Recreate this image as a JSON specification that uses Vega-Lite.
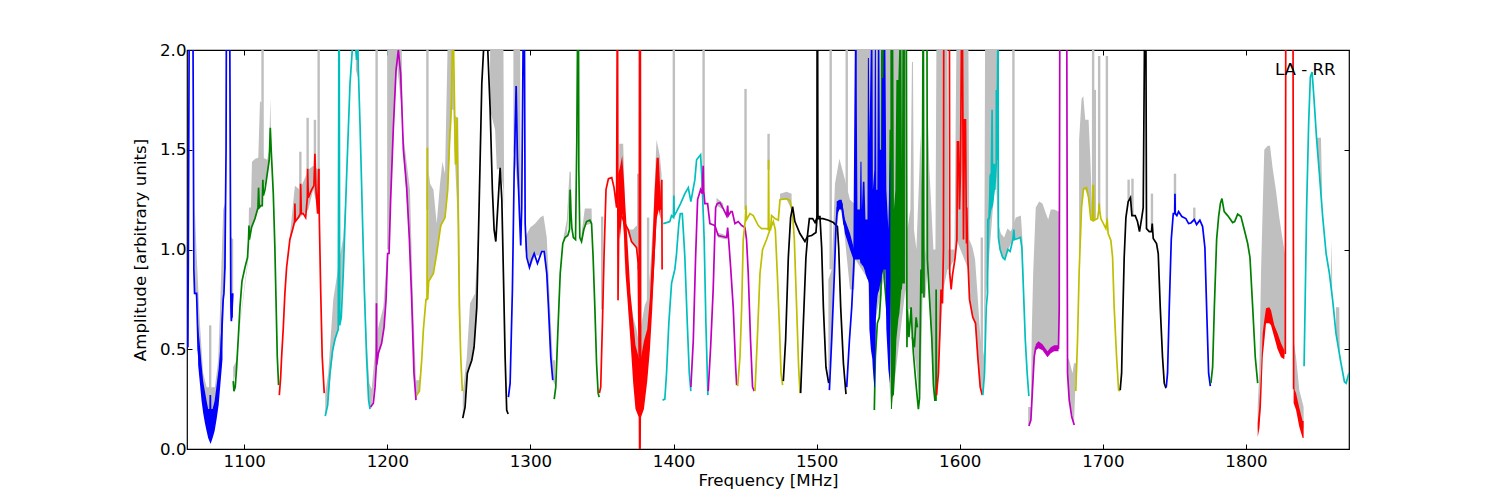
{"$schema":"https://vega.github.io/schema/vega-lite/v6.json","width":1162,"height":399,"autosize":"none","padding":{"left":187,"top":50,"right":151,"bottom":51},"background":"white","config":{"view":{"stroke":"black","strokeWidth":1.2},"font":"DejaVu Sans"},
"datasets":{
"gray":[
{"g":"a","f":1065.5,"lo":0.78,"hi":1.2},{"g":"a","f":1066.7,"lo":0.75,"hi":0.98},{"g":"a","f":1069,"lo":0.45,"hi":0.63},{"g":"a","f":1071.3,"lo":0.25,"hi":0.38},{"g":"a","f":1073.7,"lo":0.2,"hi":0.31},{"g":"a","f":1076,"lo":0.15,"hi":0.31},{"g":"a","f":1078.4,"lo":0.2,"hi":0.31},{"g":"a","f":1079.5,"lo":0.2,"hi":0.31},{"g":"a","f":1081.8,"lo":0.3,"hi":0.445},{"g":"a","f":1083,"lo":0.45,"hi":0.68},{"g":"a","f":1085.3,"lo":0.75,"hi":1.2},{"g":"a","f":1086.5,"lo":0.9,"hi":1.23},{"g":"a","f":1087.2,"lo":0.9,"hi":1.23},
{"g":"b","f":1090,"lo":0.7,"hi":1.06},{"g":"b","f":1091.1,"lo":0.65,"hi":1.06},{"g":"b","f":1092.3,"lo":0.75,"hi":1.05},
{"g":"c","f":1092.3,"lo":0.33,"hi":0.41},{"g":"c","f":1094.6,"lo":0.4,"hi":0.445},{"g":"c","f":1095.8,"lo":0.55,"hi":0.56},{"g":"c","f":1102.8,"lo":0.95,"hi":0.97},{"g":"c","f":1103.3,"lo":1.05,"hi":1.21},{"g":"c","f":1104.7,"lo":1.1,"hi":1.21},{"g":"c","f":1105.4,"lo":1.11,"hi":1.44},{"g":"c","f":1107.7,"lo":1.15,"hi":1.455},{"g":"c","f":1109.8,"lo":1.2,"hi":1.46},{"g":"c","f":1111,"lo":1.22,"hi":1.74},{"g":"c","f":1112.1,"lo":1.22,"hi":1.74},{"g":"c","f":1113.3,"lo":1.3,"hi":1.46},{"g":"c","f":1116.1,"lo":1.38,"hi":1.45},{"g":"c","f":1117.5,"lo":1.45,"hi":1.5},{"g":"c","f":1118.2,"lo":1.6,"hi":1.76},{"g":"c","f":1118.9,"lo":1.49,"hi":1.5},{"g":"c","f":1120.3,"lo":1.28,"hi":1.3},
{"g":"d","f":1131.9,"lo":1.05,"hi":1.07},{"g":"d","f":1135.4,"lo":1.14,"hi":1.32},{"g":"d","f":1138.9,"lo":1.16,"hi":1.3},{"g":"d","f":1144.8,"lo":1.2,"hi":1.4},{"g":"d","f":1148.2,"lo":1.3,"hi":1.42},{"g":"d","f":1151.7,"lo":1.2,"hi":1.4},
{"g":"e","f":1156.6,"lo":0.165,"hi":0.28},{"g":"e","f":1158.7,"lo":0.25,"hi":0.38},{"g":"e","f":1162.2,"lo":0.5,"hi":0.75},{"g":"e","f":1164.6,"lo":0.57,"hi":0.86},{"g":"e","f":1166.4,"lo":0.62,"hi":0.95},{"g":"e","f":1169.2,"lo":0.88,"hi":1.06},{"g":"e","f":1171.6,"lo":1.36,"hi":1.38},
{"g":"e2","f":1178,"lo":1.9,"hi":2.05},{"g":"e2","f":1180,"lo":1.85,"hi":2.05},
{"g":"f","f":1182.1,"lo":1.28,"hi":1.3},{"g":"f","f":1185.5,"lo":0.46,"hi":0.55},{"g":"f","f":1187.4,"lo":0.2,"hi":0.33},{"g":"f","f":1189,"lo":0.21,"hi":0.3},{"g":"f","f":1192.6,"lo":0.42,"hi":0.58},{"g":"f","f":1197.2,"lo":0.58,"hi":0.71},{"g":"f","f":1200,"lo":0.9,"hi":1.0},
{"g":"h","f":1200.9,"lo":0.98,"hi":2.05},{"g":"h","f":1202.3,"lo":1.25,"hi":2.05},{"g":"h","f":1206.5,"lo":1.95,"hi":2.05},{"g":"h","f":1210,"lo":1.7,"hi":2.05},{"g":"h","f":1210.7,"lo":1.55,"hi":1.6},{"g":"h","f":1215.8,"lo":1.0,"hi":1.3},{"g":"h","f":1218.1,"lo":0.45,"hi":0.7},{"g":"h","f":1220,"lo":0.25,"hi":0.345},{"g":"h","f":1222.4,"lo":0.29,"hi":0.345},{"g":"h","f":1224,"lo":0.44,"hi":0.46},
{"g":"i","f":1228.7,"lo":0.84,"hi":1.4},{"g":"i","f":1229.9,"lo":0.85,"hi":1.33},{"g":"i","f":1232.2,"lo":0.88,"hi":1.3},{"g":"i","f":1234.5,"lo":0.98,"hi":1.13},{"g":"i","f":1236.8,"lo":1.1,"hi":1.33},{"g":"i","f":1238.5,"lo":1.13,"hi":1.44},{"g":"i","f":1240.3,"lo":1.16,"hi":1.38},{"g":"i","f":1242.2,"lo":1.3,"hi":2.05},{"g":"i","f":1245,"lo":1.7,"hi":2.05},{"g":"i","f":1246.2,"lo":1.7,"hi":2.05},{"g":"i","f":1246.9,"lo":1.5,"hi":1.67},{"g":"i","f":1249.5,"lo":1.1,"hi":1.66},{"g":"i","f":1250.3,"lo":0.71,"hi":1.13},{"g":"i","f":1251.3,"lo":0.46,"hi":0.5},
{"g":"j","f":1252.7,"lo":0.155,"hi":0.28},{"g":"j","f":1255.5,"lo":0.35,"hi":0.46},{"g":"j","f":1257.8,"lo":0.42,"hi":0.73},{"g":"j","f":1261.3,"lo":0.55,"hi":0.78},{"g":"j","f":1263.7,"lo":1.0,"hi":1.1},
{"g":"l","f":1271.8,"lo":1.7,"hi":2.05},{"g":"l","f":1275.3,"lo":1.6,"hi":2.05},{"g":"l","f":1276.5,"lo":1.4,"hi":2.05},{"g":"l","f":1278.8,"lo":1.41,"hi":2.05},{"g":"l","f":1281.1,"lo":1.3,"hi":2.05},{"g":"l","f":1281.6,"lo":1.2,"hi":1.3},
{"g":"n","f":1288.1,"lo":1.5,"hi":2.05},{"g":"n","f":1292.8,"lo":1.2,"hi":2.05},{"g":"n","f":1293.2,"lo":1.02,"hi":1.1},
{"g":"o","f":1296.3,"lo":1.0,"hi":1.06},{"g":"o","f":1299.8,"lo":0.91,"hi":1.11},{"g":"o","f":1303.3,"lo":0.97,"hi":1.13},{"g":"o","f":1306.8,"lo":0.97,"hi":1.16},{"g":"o","f":1309.1,"lo":0.99,"hi":1.17},{"g":"o","f":1311.4,"lo":0.88,"hi":1.06},{"g":"o","f":1313.7,"lo":0.5,"hi":0.71},{"g":"o","f":1315.6,"lo":0.345,"hi":0.445},{"g":"o","f":1317.2,"lo":0.32,"hi":0.445},
{"g":"p","f":1323.1,"lo":1.04,"hi":1.06},{"g":"p","f":1325.4,"lo":1.07,"hi":1.147},{"g":"p","f":1327.3,"lo":1.25,"hi":1.39},{"g":"p","f":1328.2,"lo":1.25,"hi":1.39},{"g":"p","f":1329.1,"lo":1.1,"hi":1.15},
{"g":"q","f":1335.7,"lo":1.04,"hi":1.08},{"g":"q","f":1338,"lo":1.12,"hi":1.205},{"g":"q","f":1342.7,"lo":1.13,"hi":1.205},{"g":"q","f":1343.4,"lo":0.98,"hi":1.0},
{"g":"r","f":1362,"lo":1.18,"hi":1.53},{"g":"r","f":1364.8,"lo":1.18,"hi":1.53},{"g":"r","f":1366,"lo":0.9,"hi":1.25},
{"g":"s","f":1366,"lo":1.12,"hi":1.15},{"g":"s","f":1368.3,"lo":1.08,"hi":1.1},{"g":"s","f":1371.8,"lo":1.03,"hi":1.1},{"g":"s","f":1374.1,"lo":1.0,"hi":1.12},{"g":"s","f":1375.3,"lo":0.95,"hi":1.1},
{"g":"t","f":1368.3,"lo":0.7,"hi":0.85},{"g":"t","f":1371.8,"lo":0.4,"hi":0.66},{"g":"t","f":1374.1,"lo":0.3,"hi":0.6},{"g":"t","f":1375.3,"lo":0.3,"hi":0.55},{"g":"t","f":1377.6,"lo":0.3,"hi":0.63},{"g":"t","f":1379.9,"lo":0.3,"hi":0.72},{"g":"t","f":1381.6,"lo":0.4,"hi":0.75},{"g":"t","f":1383.5,"lo":0.6,"hi":0.88},{"g":"t","f":1385.8,"lo":0.9,"hi":1.15},{"g":"t","f":1388.1,"lo":1.2,"hi":1.55},{"g":"t","f":1390.4,"lo":1.2,"hi":1.47},{"g":"t","f":1391.6,"lo":1.2,"hi":1.38},
{"g":"u","f":1431,"lo":1.06,"hi":1.085},{"g":"u","f":1437,"lo":1.05,"hi":1.07},
{"g":"v","f":1430,"lo":1.22,"hi":1.26},{"g":"v","f":1434.7,"lo":1.2,"hi":1.23},
{"g":"w","f":1474.4,"lo":1.25,"hi":1.28},{"g":"w","f":1479,"lo":1.25,"hi":1.29},{"g":"w","f":1482.5,"lo":1.2,"hi":1.28},
{"g":"x","f":1508.2,"lo":0.33,"hi":0.85},{"g":"x","f":1510.5,"lo":0.55,"hi":0.9},{"g":"x","f":1512.8,"lo":1.0,"hi":1.33},{"g":"x","f":1515.9,"lo":1.23,"hi":1.455},{"g":"x","f":1518.7,"lo":1.13,"hi":1.38},{"g":"x","f":1523.3,"lo":0.8,"hi":1.25},{"g":"x","f":1526.2,"lo":0.8,"hi":1.23},{"g":"x","f":1527,"lo":0.95,"hi":2.05},{"g":"x","f":1536,"lo":0.85,"hi":2.05},{"g":"x","f":1536.9,"lo":0.6,"hi":2.05},{"g":"x","f":1539.3,"lo":0.4,"hi":2.05},{"g":"x","f":1540.3,"lo":0.31,"hi":2.05},{"g":"x","f":1541.2,"lo":0.65,"hi":2.05},{"g":"x","f":1548,"lo":0.9,"hi":2.05},{"g":"x","f":1550.8,"lo":0.33,"hi":2.05},{"g":"x","f":1552.2,"lo":0.2,"hi":2.05},{"g":"x","f":1562,"lo":0.8,"hi":2.05},{"g":"x","f":1562.7,"lo":0.7,"hi":2.05},{"g":"x","f":1563.4,"lo":0.7,"hi":1.1},{"g":"x","f":1565.5,"lo":0.7,"hi":1.2},{"g":"x","f":1566.6,"lo":0.6,"hi":1.94},{"g":"x","f":1567.3,"lo":0.55,"hi":1.94},{"g":"x","f":1568,"lo":0.5,"hi":1.1},{"g":"x","f":1569.7,"lo":0.4,"hi":1.0},{"g":"x","f":1571.8,"lo":0.25,"hi":1.4},{"g":"x","f":1572.5,"lo":0.25,"hi":1.58},{"g":"x","f":1574,"lo":0.76,"hi":1.2},{"g":"x","f":1575.4,"lo":0.76,"hi":0.95},{"g":"x","f":1576,"lo":0.76,"hi":1.0},{"g":"x","f":1577.4,"lo":0.9,"hi":1.75},{"g":"x","f":1578.8,"lo":0.76,"hi":1.4},{"g":"x","f":1581.6,"lo":0.32,"hi":1.0},{"g":"x","f":1583,"lo":0.25,"hi":1.0},{"g":"x","f":1583.7,"lo":0.27,"hi":2.05},{"g":"x","f":1588.6,"lo":0.8,"hi":2.05},{"g":"x","f":1591.4,"lo":0.9,"hi":2.05},{"g":"x","f":1592.1,"lo":0.9,"hi":1.0},{"g":"x","f":1596.3,"lo":0.95,"hi":1.0},{"g":"x","f":1597.7,"lo":1.05,"hi":2.05},{"g":"x","f":1606,"lo":0.9,"hi":2.05},{"g":"x","f":1606.7,"lo":0.75,"hi":1.05},{"g":"x","f":1608.9,"lo":0.66,"hi":1.01},{"g":"x","f":1610.7,"lo":0.63,"hi":0.95},{"g":"x","f":1612.4,"lo":0.46,"hi":0.78},{"g":"x","f":1614,"lo":0.31,"hi":0.6},{"g":"x","f":1615.9,"lo":0.27,"hi":0.45},{"g":"x","f":1617,"lo":0.38,"hi":0.5},{"g":"x","f":1617.7,"lo":0.7,"hi":2.05},{"g":"x","f":1625.2,"lo":1.4,"hi":2.05},{"g":"x","f":1626.6,"lo":1.1,"hi":2.05},{"g":"x","f":1626.8,"lo":1.06,"hi":1.13},{"g":"x","f":1628.7,"lo":0.98,"hi":1.08},{"g":"x","f":1631,"lo":0.95,"hi":1.06},{"g":"x","f":1633.3,"lo":0.99,"hi":1.105},{"g":"x","f":1635.7,"lo":1.03,"hi":1.09},{"g":"x","f":1639.2,"lo":1.055,"hi":1.16},{"g":"x","f":1642.7,"lo":1.06,"hi":1.17},{"g":"x","f":1643.8,"lo":0.95,"hi":1.05},{"g":"x","f":1645.5,"lo":0.545,"hi":0.6},
{"g":"y","f":1647.8,"lo":0.12,"hi":0.21},{"g":"y","f":1649.7,"lo":0.145,"hi":0.21},{"g":"y","f":1650.3,"lo":0.25,"hi":0.58},{"g":"y","f":1651.3,"lo":0.38,"hi":0.88},{"g":"y","f":1653.1,"lo":0.51,"hi":1.21},{"g":"y","f":1655.5,"lo":0.52,"hi":1.24},{"g":"y","f":1657.8,"lo":0.51,"hi":1.23},{"g":"y","f":1660.2,"lo":0.48,"hi":1.18},{"g":"y","f":1661.8,"lo":0.475,"hi":1.15},{"g":"y","f":1663.6,"lo":0.495,"hi":1.2},{"g":"y","f":1666,"lo":0.505,"hi":1.2},{"g":"y","f":1669,"lo":0.505,"hi":1.19},{"g":"y","f":1669.9,"lo":0.9,"hi":1.19},
{"g":"z","f":1675.3,"lo":0.38,"hi":0.46},{"g":"z","f":1676.5,"lo":0.245,"hi":0.445},{"g":"z","f":1678.8,"lo":0.17,"hi":0.38},{"g":"z","f":1679.8,"lo":0.12,"hi":0.43},{"g":"z","f":1680.7,"lo":0.3,"hi":0.43},{"g":"z","f":1681.6,"lo":0.42,"hi":0.43},
{"g":"aa","f":1683.4,"lo":0.88,"hi":1.55},{"g":"aa","f":1685.1,"lo":1.21,"hi":1.755},{"g":"aa","f":1686.3,"lo":1.3,"hi":1.77},{"g":"aa","f":1687.7,"lo":1.3,"hi":1.65},{"g":"aa","f":1690,"lo":1.26,"hi":1.65},{"g":"aa","f":1691.1,"lo":1.17,"hi":1.48},{"g":"aa","f":1692.8,"lo":1.145,"hi":1.15},
{"g":"ab","f":1808.2,"lo":0.1,"hi":0.21},{"g":"ab","f":1809.3,"lo":0.1,"hi":0.38},{"g":"ab","f":1810.5,"lo":0.25,"hi":0.88},{"g":"ab","f":1811.7,"lo":0.5,"hi":1.21},{"g":"ab","f":1812.8,"lo":0.6,"hi":1.5},{"g":"ab","f":1815.2,"lo":0.68,"hi":1.52},{"g":"ab","f":1816.8,"lo":0.68,"hi":1.52},{"g":"ab","f":1818.6,"lo":0.6,"hi":1.41},{"g":"ab","f":1820.9,"lo":0.55,"hi":1.3},{"g":"ab","f":1823.3,"lo":0.5,"hi":1.16},{"g":"ab","f":1825.6,"lo":0.47,"hi":1.05},{"g":"ab","f":1827.3,"lo":0.46,"hi":0.98},
{"g":"ac","f":1833.3,"lo":0.3,"hi":0.545},{"g":"ac","f":1835,"lo":0.25,"hi":0.46},{"g":"ac","f":1837.3,"lo":0.15,"hi":0.295},{"g":"ac","f":1840.3,"lo":0.1,"hi":0.21},
{"g":"ad","f":1849.4,"lo":1.55,"hi":1.56},{"g":"ad","f":1851.3,"lo":1.38,"hi":1.56},{"g":"ad","f":1852.4,"lo":1.3,"hi":1.56},{"g":"ad","f":1853.2,"lo":1.19,"hi":1.3},
{"g":"ae","f":1859.5,"lo":0.8,"hi":1.05},{"g":"ae","f":1860.2,"lo":0.76,"hi":0.9},
{"g":"af","f":1862.9,"lo":0.58,"hi":0.71},{"g":"af","f":1865.2,"lo":0.5,"hi":0.71},{"g":"af","f":1865.7,"lo":0.43,"hi":0.44}
],
"spikes":[
{"f":1076.2,"lo":0.3,"hi":0.62},{"f":1112.8,"lo":1.4,"hi":2.05},{"f":1139.2,"lo":1.2,"hi":1.49},{"f":1144.3,"lo":1.3,"hi":1.66},{"f":1149.4,"lo":1.3,"hi":1.65},{"f":1152,"lo":1.3,"hi":2.05},{"f":1192.5,"lo":0.5,"hi":2.05},{"f":1200.7,"lo":1.0,"hi":2.05},{"f":1228,"lo":1.2,"hi":2.05},{"f":1350.1,"lo":0.7,"hi":1.165},{"f":1375.3,"lo":0.9,"hi":1.38},{"f":1382.2,"lo":0.7,"hi":1.16},{"f":1400.2,"lo":1.16,"hi":2.05},{"f":1421,"lo":1.3,"hi":2.05},{"f":1450.3,"lo":1.2,"hi":1.805},{"f":1466.4,"lo":1.4,"hi":1.58},{"f":1509.8,"lo":0.9,"hi":2.05},{"f":1521,"lo":1.1,"hi":2.05},{"f":1615.4,"lo":0.4,"hi":1.06},{"f":1637.5,"lo":1.1,"hi":2.05},{"f":1693.2,"lo":1.3,"hi":2.05},{"f":1694.4,"lo":1.15,"hi":1.8},{"f":1697.4,"lo":1.2,"hi":1.97},{"f":1702.8,"lo":1.15,"hi":1.97},{"f":1718,"lo":1.25,"hi":1.35},{"f":1720.7,"lo":1.17,"hi":1.355},{"f":1734.3,"lo":1.1,"hi":1.28},{"f":1750.4,"lo":1.2,"hi":1.38},{"f":1763.9,"lo":1.15,"hi":1.21}
],
"lines":[
{"s":"b1","c":"b","f":1060.5,"a":0.51},{"s":"b1","c":"b","f":1060.9,"a":0.9},{"s":"b1","c":"b","f":1061.5,"a":2.05},{"s":"b1","c":"b","f":1064.2,"a":2.05},{"s":"b1","c":"b","f":1064.8,"a":0.9},{"s":"b1","c":"b","f":1065.3,"a":0.78},{"s":"b1","c":"b","f":1066.7,"a":0.78},{"s":"b1","c":"b","f":1067.8,"a":0.5},{"s":"b1","c":"b","f":1070.2,"a":0.33},{"s":"b1","c":"b","f":1073.7,"a":0.16},{"s":"b1","c":"b","f":1076,"a":0.1},{"s":"b1","c":"b","f":1076.3,"a":0.27},{"s":"b1","c":"b","f":1076.6,"a":0.1},{"s":"b1","c":"b","f":1079.3,"a":0.16},{"s":"b1","c":"b","f":1081.4,"a":0.27},{"s":"b1","c":"b","f":1083.4,"a":0.42},{"s":"b1","c":"b","f":1085.3,"a":0.75},{"s":"b1","c":"b","f":1085.8,"a":0.78},{"s":"b1","c":"b","f":1086.5,"a":0.91},{"s":"b1","c":"b","f":1087.3,"a":1.5},{"s":"b1","c":"b","f":1087.5,"a":2.05},{"s":"b1","c":"b","f":1089.9,"a":2.05},{"s":"b1","c":"b","f":1090.6,"a":0.78},{"s":"b1","c":"b","f":1091,"a":0.64},{"s":"b1","c":"b","f":1091.5,"a":0.7},{"s":"b1","c":"b","f":1092,"a":0.78},
{"s":"g1","c":"g","f":1092.3,"a":0.34},{"s":"g1","c":"g","f":1092.8,"a":0.29},{"s":"g1","c":"g","f":1093.7,"a":0.31},{"s":"g1","c":"g","f":1094.6,"a":0.4},{"s":"g1","c":"g","f":1095.8,"a":0.55},{"s":"g1","c":"g","f":1097,"a":0.71},{"s":"g1","c":"g","f":1098.4,"a":0.84},{"s":"g1","c":"g","f":1100.5,"a":0.91},{"s":"g1","c":"g","f":1102.3,"a":0.96},{"s":"g1","c":"g","f":1103,"a":1.05},{"s":"g1","c":"g","f":1103.3,"a":1.12},{"s":"g1","c":"g","f":1103.6,"a":1.05},{"s":"g1","c":"g","f":1105.1,"a":1.11},{"s":"g1","c":"g","f":1107.5,"a":1.155},{"s":"g1","c":"g","f":1109.6,"a":1.21},{"s":"g1","c":"g","f":1110,"a":1.31},{"s":"g1","c":"g","f":1110.5,"a":1.21},{"s":"g1","c":"g","f":1111.7,"a":1.22},{"s":"g1","c":"g","f":1112.6,"a":1.22},{"s":"g1","c":"g","f":1113,"a":1.35},{"s":"g1","c":"g","f":1113.4,"a":1.27},{"s":"g1","c":"g","f":1114.5,"a":1.3},{"s":"g1","c":"g","f":1116.1,"a":1.38},{"s":"g1","c":"g","f":1117.5,"a":1.45},{"s":"g1","c":"g","f":1118.2,"a":1.61},{"s":"g1","c":"g","f":1118.9,"a":1.49},{"s":"g1","c":"g","f":1120.3,"a":1.28},{"s":"g1","c":"g","f":1121.4,"a":1.01},{"s":"g1","c":"g","f":1122.1,"a":0.78},{"s":"g1","c":"g","f":1123.1,"a":0.46},{"s":"g1","c":"g","f":1124,"a":0.32},
{"s":"r1","c":"r","f":1124.5,"a":0.27},{"s":"r1","c":"r","f":1125.4,"a":0.354},{"s":"r1","c":"r","f":1126.1,"a":0.46},{"s":"r1","c":"r","f":1127.3,"a":0.61},{"s":"r1","c":"r","f":1128.4,"a":0.78},{"s":"r1","c":"r","f":1129.6,"a":0.91},{"s":"r1","c":"r","f":1131.9,"a":1.05},{"s":"r1","c":"r","f":1133.8,"a":1.1},{"s":"r1","c":"r","f":1135.2,"a":1.14},{"s":"r1","c":"r","f":1135.4,"a":1.23},{"s":"r1","c":"r","f":1135.7,"a":1.14},{"s":"r1","c":"r","f":1137.8,"a":1.16},{"s":"r1","c":"r","f":1139.2,"a":1.18},{"s":"r1","c":"r","f":1139.4,"a":1.33},{"s":"r1","c":"r","f":1139.9,"a":1.18},{"s":"r1","c":"r","f":1141.3,"a":1.18},{"s":"r1","c":"r","f":1142.9,"a":1.16},{"s":"r1","c":"r","f":1144.1,"a":1.26},{"s":"r1","c":"r","f":1144.3,"a":1.405},{"s":"r1","c":"r","f":1144.8,"a":1.26},{"s":"r1","c":"r","f":1147.1,"a":1.3},{"s":"r1","c":"r","f":1148.7,"a":1.32},{"s":"r1","c":"r","f":1149.4,"a":1.48},{"s":"r1","c":"r","f":1150.1,"a":1.3},{"s":"r1","c":"r","f":1151.3,"a":1.18},{"s":"r1","c":"r","f":1152,"a":1.4},{"s":"r1","c":"r","f":1152.2,"a":1.4},{"s":"r1","c":"r","f":1152.4,"a":1.18},{"s":"r1","c":"r","f":1153.4,"a":0.8},{"s":"r1","c":"r","f":1154.5,"a":0.46},{"s":"r1","c":"r","f":1155.9,"a":0.28},
{"s":"c1","c":"c","f":1156.6,"a":0.165},{"s":"c1","c":"c","f":1158.3,"a":0.22},{"s":"c1","c":"c","f":1159.9,"a":0.38},{"s":"c1","c":"c","f":1161.8,"a":0.495},{"s":"c1","c":"c","f":1163.4,"a":0.55},{"s":"c1","c":"c","f":1165.7,"a":0.6},{"s":"c1","c":"c","f":1166.1,"a":2.05},{"s":"c1","c":"c","f":1166.4,"a":2.05},{"s":"c1","c":"c","f":1166.7,"a":0.62},{"s":"c1","c":"c","f":1167.8,"a":0.66},{"s":"c1","c":"c","f":1169.2,"a":0.88},{"s":"c1","c":"c","f":1171.6,"a":1.38},{"s":"c1","c":"c","f":1173.9,"a":1.83},{"s":"c1","c":"c","f":1175.5,"a":2.0},{"s":"c1","c":"c","f":1177.4,"a":2.05},{"s":"c1","c":"c","f":1178.5,"a":1.95},{"s":"c1","c":"c","f":1179.3,"a":2.05},{"s":"c1","c":"c","f":1179.7,"a":1.91},{"s":"c1","c":"c","f":1180.9,"a":1.63},{"s":"c1","c":"c","f":1182.1,"a":1.3},{"s":"c1","c":"c","f":1183.9,"a":0.8},{"s":"c1","c":"c","f":1185.5,"a":0.46},{"s":"c1","c":"c","f":1186.9,"a":0.245},{"s":"c1","c":"c","f":1187.9,"a":0.2},
{"s":"m1","c":"m","f":1188.3,"a":0.21},{"s":"m1","c":"m","f":1190.2,"a":0.23},{"s":"m1","c":"m","f":1191.4,"a":0.31},{"s":"m1","c":"m","f":1192.3,"a":0.42},{"s":"m1","c":"m","f":1192.4,"a":0.73},{"s":"m1","c":"m","f":1192.6,"a":0.42},{"s":"m1","c":"m","f":1193.7,"a":0.48},{"s":"m1","c":"m","f":1196,"a":0.53},{"s":"m1","c":"m","f":1197.7,"a":0.61},{"s":"m1","c":"m","f":1199.1,"a":0.75},{"s":"m1","c":"m","f":1200.2,"a":0.98},{"s":"m1","c":"m","f":1201.2,"a":0.98},{"s":"m1","c":"m","f":1202.3,"a":1.25},{"s":"m1","c":"m","f":1204.2,"a":1.61},{"s":"m1","c":"m","f":1206.1,"a":1.9},{"s":"m1","c":"m","f":1207.7,"a":2.0},{"s":"m1","c":"m","f":1209.3,"a":1.88},{"s":"m1","c":"m","f":1211.2,"a":1.5},{"s":"m1","c":"m","f":1213.5,"a":1.31},{"s":"m1","c":"m","f":1215.4,"a":1.05},{"s":"m1","c":"m","f":1217,"a":0.75},{"s":"m1","c":"m","f":1218.6,"a":0.38},{"s":"m1","c":"m","f":1220,"a":0.245},
{"s":"y1","c":"y","f":1220.5,"a":0.27},{"s":"y1","c":"y","f":1222.4,"a":0.29},{"s":"y1","c":"y","f":1224,"a":0.445},{"s":"y1","c":"y","f":1225.2,"a":0.6},{"s":"y1","c":"y","f":1227,"a":0.75},{"s":"y1","c":"y","f":1227.7,"a":0.75},{"s":"y1","c":"y","f":1228,"a":1.51},{"s":"y1","c":"y","f":1228.2,"a":0.75},{"s":"y1","c":"y","f":1228.9,"a":0.84},{"s":"y1","c":"y","f":1232.2,"a":0.88},{"s":"y1","c":"y","f":1234.5,"a":0.98},{"s":"y1","c":"y","f":1237.3,"a":1.12},{"s":"y1","c":"y","f":1240.3,"a":1.16},{"s":"y1","c":"y","f":1242.2,"a":1.3},{"s":"y1","c":"y","f":1243.8,"a":1.6},{"s":"y1","c":"y","f":1244,"a":1.6},{"s":"y1","c":"y","f":1244.8,"a":1.74},{"s":"y1","c":"y","f":1245.5,"a":2.05},{"s":"y1","c":"y","f":1246.2,"a":2.05},{"s":"y1","c":"y","f":1247.1,"a":1.65},{"s":"y1","c":"y","f":1247.6,"a":1.43},{"s":"y1","c":"y","f":1248.3,"a":1.43},{"s":"y1","c":"y","f":1248.7,"a":1.66},{"s":"y1","c":"y","f":1249,"a":1.43},{"s":"y1","c":"y","f":1249.7,"a":1.05},{"s":"y1","c":"y","f":1250.3,"a":0.71},{"s":"y1","c":"y","f":1251.3,"a":0.46},{"s":"y1","c":"y","f":1252.4,"a":0.29},
{"s":"k1","c":"k","f":1252.7,"a":0.155},{"s":"k1","c":"k","f":1254.3,"a":0.21},{"s":"k1","c":"k","f":1255.9,"a":0.38},{"s":"k1","c":"k","f":1257.3,"a":0.41},{"s":"k1","c":"k","f":1259,"a":0.445},{"s":"k1","c":"k","f":1260.6,"a":0.51},{"s":"k1","c":"k","f":1262.5,"a":0.71},{"s":"k1","c":"k","f":1264.1,"a":1.21},{"s":"k1","c":"k","f":1266,"a":1.83},{"s":"k1","c":"k","f":1267.6,"a":2.05},{"s":"k1","c":"k","f":1269.9,"a":2.05},{"s":"k1","c":"k","f":1271.8,"a":1.71},{"s":"k1","c":"k","f":1273.4,"a":1.3},{"s":"k1","c":"k","f":1274.6,"a":1.1},{"s":"k1","c":"k","f":1275.8,"a":1.04},{"s":"k1","c":"k","f":1276.9,"a":1.18},{"s":"k1","c":"k","f":1278.8,"a":1.41},{"s":"k1","c":"k","f":1280,"a":1.25},{"s":"k1","c":"k","f":1281.1,"a":0.88},{"s":"k1","c":"k","f":1282.3,"a":0.46},{"s":"k1","c":"k","f":1283.4,"a":0.195},{"s":"k1","c":"k","f":1284.4,"a":0.175},
{"s":"b2","c":"b","f":1284.6,"a":0.26},{"s":"b2","c":"b","f":1285.8,"a":0.33},{"s":"b2","c":"b","f":1287.4,"a":0.8},{"s":"b2","c":"b","f":1288.6,"a":1.38},{"s":"b2","c":"b","f":1290,"a":1.82},{"s":"b2","c":"b","f":1290.9,"a":1.46},{"s":"b2","c":"b","f":1292.3,"a":1.18},{"s":"b2","c":"b","f":1293.2,"a":1.02},{"s":"b2","c":"b","f":1293.9,"a":1.21},{"s":"b2","c":"b","f":1294.9,"a":2.05},{"s":"b2","c":"b","f":1295.8,"a":2.05},{"s":"b2","c":"b","f":1296.3,"a":1.13},{"s":"b2","c":"b","f":1297.4,"a":0.96},{"s":"b2","c":"b","f":1299.3,"a":0.91},{"s":"b2","c":"b","f":1300.9,"a":0.95},{"s":"b2","c":"b","f":1302.6,"a":0.98},{"s":"b2","c":"b","f":1304.9,"a":0.93},{"s":"b2","c":"b","f":1307.9,"a":0.99},{"s":"b2","c":"b","f":1309.6,"a":0.99},{"s":"b2","c":"b","f":1311.4,"a":0.88},{"s":"b2","c":"b","f":1312.6,"a":0.71},{"s":"b2","c":"b","f":1314.2,"a":0.46},{"s":"b2","c":"b","f":1315.6,"a":0.345},
{"s":"g2","c":"g","f":1316.6,"a":0.25},{"s":"g2","c":"g","f":1317.7,"a":0.31},{"s":"g2","c":"g","f":1319.1,"a":0.58},{"s":"g2","c":"g","f":1320.8,"a":0.88},{"s":"g2","c":"g","f":1322.6,"a":1.03},{"s":"g2","c":"g","f":1324.2,"a":1.06},{"s":"g2","c":"g","f":1326.1,"a":1.07},{"s":"g2","c":"g","f":1327.3,"a":1.1},{"s":"g2","c":"g","f":1327.7,"a":1.3},{"s":"g2","c":"g","f":1328.2,"a":1.2},{"s":"g2","c":"g","f":1328.9,"a":1.11},{"s":"g2","c":"g","f":1330,"a":1.06},{"s":"g2","c":"g","f":1331.5,"a":1.05},{"s":"g2","c":"g","f":1332.4,"a":1.55},{"s":"g2","c":"g","f":1332.9,"a":2.05},{"s":"g2","c":"g","f":1333.6,"a":2.05},{"s":"g2","c":"g","f":1333.8,"a":1.4},{"s":"g2","c":"g","f":1334.5,"a":1.06},{"s":"g2","c":"g","f":1335.7,"a":1.04},{"s":"g2","c":"g","f":1337.3,"a":1.1},{"s":"g2","c":"g","f":1339.2,"a":1.14},{"s":"g2","c":"g","f":1341.5,"a":1.147},{"s":"g2","c":"g","f":1342.7,"a":1.13},{"s":"g2","c":"g","f":1343.8,"a":0.96},{"s":"g2","c":"g","f":1345,"a":0.71},{"s":"g2","c":"g","f":1346.2,"a":0.43},{"s":"g2","c":"g","f":1347.3,"a":0.28},{"s":"g2","c":"g","f":1348,"a":0.26},
{"s":"r2","c":"r","f":1348.2,"a":0.28},{"s":"r2","c":"r","f":1349.1,"a":0.31},{"s":"r2","c":"r","f":1350.3,"a":0.63},{"s":"r2","c":"r","f":1351.4,"a":0.96},{"s":"r2","c":"r","f":1352.8,"a":1.3},{"s":"r2","c":"r","f":1354.5,"a":1.355},{"s":"r2","c":"r","f":1356.8,"a":1.36},{"s":"r2","c":"r","f":1358.4,"a":1.31},{"s":"r2","c":"r","f":1360.2,"a":1.21},{"s":"r2","c":"r","f":1360.6,"a":2.05},{"s":"r2","c":"r","f":1360.9,"a":2.05},{"s":"r2","c":"r","f":1361.2,"a":0.745},{"s":"r2","c":"r","f":1361.8,"a":1.2},{"s":"r2","c":"r","f":1366,"a":1.13},{"s":"r2","c":"r","f":1368.3,"a":1.1},{"s":"r2","c":"r","f":1370.6,"a":1.04},{"s":"r2","c":"r","f":1374.1,"a":1.01},{"s":"r2","c":"r","f":1375.3,"a":0.93},{"s":"r2","c":"r","f":1376,"a":0.46},{"s":"r2","c":"r","f":1376.2,"a":2.05},{"s":"r2","c":"r","f":1376.8,"a":2.05},{"s":"r2","c":"r","f":1377,"a":0.46},{"s":"r2","c":"r","f":1378,"a":0.3},{"s":"r2","c":"r","f":1380,"a":0.4},{"s":"r2","c":"r","f":1383.5,"a":0.65},{"s":"r2","c":"r","f":1385.8,"a":0.9},{"s":"r2","c":"r","f":1388.6,"a":1.3},{"s":"r2","c":"r","f":1390.9,"a":1.2},{"s":"r2","c":"r","f":1391.8,"a":1.35},{"s":"r2","c":"r","f":1392,"a":0.9},
{"s":"c2a","c":"c","f":1392.3,"a":0.245},{"s":"c2a","c":"c","f":1393.9,"a":0.25},{"s":"c2a","c":"c","f":1395.1,"a":0.38},{"s":"c2a","c":"c","f":1396.7,"a":0.63},{"s":"c2a","c":"c","f":1398.6,"a":0.83},{"s":"c2a","c":"c","f":1400.2,"a":0.88},{"s":"c2a","c":"c","f":1400.9,"a":0.9},{"s":"c2a","c":"c","f":1402.1,"a":0.98},{"s":"c2a","c":"c","f":1402.6,"a":1.03},{"s":"c2a","c":"c","f":1403.7,"a":1.13},{"s":"c2a","c":"c","f":1404.7,"a":1.18},{"s":"c2a","c":"c","f":1406.1,"a":1.18},{"s":"c2a","c":"c","f":1407.2,"a":1.05},{"s":"c2a","c":"c","f":1407.9,"a":0.96},{"s":"c2a","c":"c","f":1409.6,"a":0.63},{"s":"c2a","c":"c","f":1411,"a":0.38},{"s":"c2a","c":"c","f":1412.1,"a":0.29},
{"s":"c2b","c":"c","f":1392.8,"a":1.13},{"s":"c2b","c":"c","f":1395.1,"a":1.135},{"s":"c2b","c":"c","f":1397.4,"a":1.14},{"s":"c2b","c":"c","f":1398.6,"a":1.17},{"s":"c2b","c":"c","f":1400,"a":1.16},{"s":"c2b","c":"c","f":1400.2,"a":1.27},{"s":"c2b","c":"c","f":1400.5,"a":1.17},{"s":"c2b","c":"c","f":1402.1,"a":1.19},{"s":"c2b","c":"c","f":1404.9,"a":1.23},{"s":"c2b","c":"c","f":1407.9,"a":1.28},{"s":"c2b","c":"c","f":1410.3,"a":1.31},{"s":"c2b","c":"c","f":1412.1,"a":1.24},{"s":"c2b","c":"c","f":1414.9,"a":1.35},{"s":"c2b","c":"c","f":1416.1,"a":1.45},{"s":"c2b","c":"c","f":1418.9,"a":1.475},{"s":"c2b","c":"c","f":1420,"a":1.33},{"s":"c2b","c":"c","f":1421.4,"a":1.05},{"s":"c2b","c":"c","f":1422.6,"a":0.63},{"s":"c2b","c":"c","f":1424,"a":0.27},
{"s":"m2a","c":"m","f":1412.1,"a":0.31},{"s":"m2a","c":"m","f":1413.8,"a":0.545},{"s":"m2a","c":"m","f":1415.4,"a":0.96},{"s":"m2a","c":"m","f":1416.8,"a":1.25},{"s":"m2a","c":"m","f":1418.9,"a":1.3},{"s":"m2a","c":"m","f":1420,"a":1.28},{"s":"m2a","c":"m","f":1420.7,"a":1.42},{"s":"m2a","c":"m","f":1421,"a":1.3},{"s":"m2a","c":"m","f":1421.9,"a":1.23},{"s":"m2a","c":"m","f":1423.8,"a":1.23},{"s":"m2a","c":"m","f":1425.4,"a":1.13},{"s":"m2a","c":"m","f":1428.9,"a":1.12},{"s":"m2a","c":"m","f":1431.2,"a":1.07},{"s":"m2a","c":"m","f":1437.1,"a":1.06},{"s":"m2a","c":"m","f":1437.8,"a":1.11},{"s":"m2a","c":"m","f":1438.5,"a":1.05},{"s":"m2a","c":"m","f":1439.9,"a":0.91},{"s":"m2a","c":"m","f":1441.7,"a":0.71},{"s":"m2a","c":"m","f":1443.4,"a":0.41},{"s":"m2a","c":"m","f":1444.1,"a":0.32},
{"s":"m2b","c":"m","f":1424.2,"a":0.29},{"s":"m2b","c":"m","f":1425.9,"a":0.51},{"s":"m2b","c":"m","f":1427.7,"a":0.8},{"s":"m2b","c":"m","f":1429.4,"a":1.21},{"s":"m2b","c":"m","f":1430.5,"a":1.23},{"s":"m2b","c":"m","f":1432.4,"a":1.235},{"s":"m2b","c":"m","f":1434.7,"a":1.205},{"s":"m2b","c":"m","f":1437.1,"a":1.17},{"s":"m2b","c":"m","f":1437.8,"a":1.22},{"s":"m2b","c":"m","f":1438.3,"a":1.17},{"s":"m2b","c":"m","f":1440.1,"a":1.19},{"s":"m2b","c":"m","f":1441,"a":1.19},{"s":"m2b","c":"m","f":1442.9,"a":1.13},{"s":"m2b","c":"m","f":1445.2,"a":1.14},{"s":"m2b","c":"m","f":1447.6,"a":1.12},{"s":"m2b","c":"m","f":1449.9,"a":1.11},{"s":"m2b","c":"m","f":1451,"a":1.05},{"s":"m2b","c":"m","f":1452.2,"a":0.88},{"s":"m2b","c":"m","f":1453.8,"a":0.545},{"s":"m2b","c":"m","f":1455.2,"a":0.31},{"s":"m2b","c":"m","f":1456.4,"a":0.29},
{"s":"y2a","c":"y","f":1444.8,"a":0.315},{"s":"y2a","c":"y","f":1446.4,"a":0.46},{"s":"y2a","c":"y","f":1447.6,"a":0.71},{"s":"y2a","c":"y","f":1448.7,"a":1.05},{"s":"y2a","c":"y","f":1450.1,"a":1.145},{"s":"y2a","c":"y","f":1450.6,"a":1.22},{"s":"y2a","c":"y","f":1451,"a":1.15},{"s":"y2a","c":"y","f":1453.4,"a":1.18},{"s":"y2a","c":"y","f":1455.7,"a":1.17},{"s":"y2a","c":"y","f":1459.2,"a":1.12},{"s":"y2a","c":"y","f":1461.5,"a":1.105},{"s":"y2a","c":"y","f":1465,"a":1.105},{"s":"y2a","c":"y","f":1466.2,"a":1.1},{"s":"y2a","c":"y","f":1466.4,"a":1.45},{"s":"y2a","c":"y","f":1466.7,"a":1.1},{"s":"y2a","c":"y","f":1467.8,"a":1.1},{"s":"y2a","c":"y","f":1468.5,"a":1.17},{"s":"y2a","c":"y","f":1470.9,"a":1.155},{"s":"y2a","c":"y","f":1473.2,"a":1.147},{"s":"y2a","c":"y","f":1474.4,"a":1.25},{"s":"y2a","c":"y","f":1479,"a":1.255},{"s":"y2a","c":"y","f":1481.4,"a":1.245},{"s":"y2a","c":"y","f":1483.2,"a":1.18},{"s":"y2a","c":"y","f":1484.4,"a":1.05},{"s":"y2a","c":"y","f":1486,"a":0.71},{"s":"y2a","c":"y","f":1487.4,"a":0.41},{"s":"y2a","c":"y","f":1488.4,"a":0.28},
{"s":"y2b","c":"y","f":1456.9,"a":0.29},{"s":"y2b","c":"y","f":1458.5,"a":0.545},{"s":"y2b","c":"y","f":1460.4,"a":0.88},{"s":"y2b","c":"y","f":1462.2,"a":1.0},{"s":"y2b","c":"y","f":1465,"a":1.05},{"s":"y2b","c":"y","f":1467.4,"a":1.1},{"s":"y2b","c":"y","f":1469.7,"a":1.14},{"s":"y2b","c":"y","f":1471.1,"a":1.1},{"s":"y2b","c":"y","f":1472.5,"a":0.88},{"s":"y2b","c":"y","f":1473.9,"a":0.63},{"s":"y2b","c":"y","f":1475.1,"a":0.38},{"s":"y2b","c":"y","f":1476.2,"a":0.32},
{"s":"k2a","c":"k","f":1476.7,"a":0.34},{"s":"k2a","c":"k","f":1478.3,"a":0.545},{"s":"k2a","c":"k","f":1480.2,"a":0.96},{"s":"k2a","c":"k","f":1481.8,"a":1.16},{"s":"k2a","c":"k","f":1483.2,"a":1.215},{"s":"k2a","c":"k","f":1484.8,"a":1.14},{"s":"k2a","c":"k","f":1488.3,"a":1.08},{"s":"k2a","c":"k","f":1491.8,"a":1.04},{"s":"k2a","c":"k","f":1493.5,"a":1.065},{"s":"k2a","c":"k","f":1494.9,"a":1.155},{"s":"k2a","c":"k","f":1497.2,"a":1.155},{"s":"k2a","c":"k","f":1498.9,"a":1.135},{"s":"k2a","c":"k","f":1500.5,"a":1.165},{"s":"k2a","c":"k","f":1502.3,"a":1.165},{"s":"k2a","c":"k","f":1503.5,"a":1.01},{"s":"k2a","c":"k","f":1504.7,"a":0.71},{"s":"k2a","c":"k","f":1506.5,"a":0.41},{"s":"k2a","c":"k","f":1508.4,"a":0.33},
{"s":"k2b","c":"k","f":1488.8,"a":0.28},{"s":"k2b","c":"k","f":1490.7,"a":0.63},{"s":"k2b","c":"k","f":1492.5,"a":0.96},{"s":"k2b","c":"k","f":1493.7,"a":1.065},{"s":"k2b","c":"k","f":1496.5,"a":1.07},{"s":"k2b","c":"k","f":1499.5,"a":1.085},{"s":"k2b","c":"k","f":1500.2,"a":1.15},{"s":"k2b","c":"k","f":1500.3,"a":2.05},{"s":"k2b","c":"k","f":1500.7,"a":2.05},{"s":"k2b","c":"k","f":1500.9,"a":1.155},{"s":"k2b","c":"k","f":1504.4,"a":1.155},{"s":"k2b","c":"k","f":1508.2,"a":1.147},{"s":"k2b","c":"k","f":1511.7,"a":1.135},{"s":"k2b","c":"k","f":1514.5,"a":1.115},{"s":"k2b","c":"k","f":1515.4,"a":1.01},{"s":"k2b","c":"k","f":1516.8,"a":0.71},{"s":"k2b","c":"k","f":1518.7,"a":0.43},{"s":"k2b","c":"k","f":1520.5,"a":0.275},
{"s":"b3a","c":"b","f":1508.9,"a":0.295},{"s":"b3a","c":"b","f":1510.5,"a":0.545},{"s":"b3a","c":"b","f":1512.4,"a":0.88},{"s":"b3a","c":"b","f":1513.5,"a":1.115},{"s":"b3a","c":"b","f":1514.5,"a":1.21},{"s":"b3a","c":"b","f":1515.9,"a":1.23},{"s":"b3a","c":"b","f":1517.5,"a":1.23},{"s":"b3a","c":"b","f":1519.1,"a":1.13},{"s":"b3a","c":"b","f":1522.2,"a":1.07},{"s":"b3a","c":"b","f":1524.5,"a":1.01},{"s":"b3a","c":"b","f":1526.2,"a":0.97},
{"s":"b3b","c":"b","f":1521,"a":0.31},{"s":"b3b","c":"b","f":1522.9,"a":0.545},{"s":"b3b","c":"b","f":1524.5,"a":0.71},{"s":"b3b","c":"b","f":1526.2,"a":0.96},{"s":"b3b","c":"b","f":1526.8,"a":1.55},{"s":"b3b","c":"b","f":1527.3,"a":2.05},
{"s":"g3a","c":"g","f":1540.3,"a":0.195},{"s":"g3a","c":"g","f":1541,"a":0.46},{"s":"g3a","c":"g","f":1542.4,"a":0.63},{"s":"g3a","c":"g","f":1543.8,"a":0.66},{"s":"g3a","c":"g","f":1544.9,"a":0.78},{"s":"g3a","c":"g","f":1545.2,"a":0.9},{"s":"g3a","c":"g","f":1545.6,"a":2.05},{"s":"g3a","c":"g","f":1546.6,"a":2.05},{"s":"g3a","c":"g","f":1547,"a":0.9},{"s":"g3a","c":"g","f":1547.3,"a":0.85},{"s":"g3a","c":"g","f":1549.4,"a":0.67},{"s":"g3a","c":"g","f":1550.1,"a":0.8},{"s":"g3a","c":"g","f":1550.8,"a":1.0},{"s":"g3a","c":"g","f":1551.5,"a":1.6},
{"s":"g3b","c":"g","f":1562.7,"a":2.05},{"s":"g3b","c":"g","f":1563.1,"a":0.51},{"s":"g3b","c":"g","f":1563.4,"a":0.7},{"s":"g3b","c":"g","f":1564.5,"a":0.56},{"s":"g3b","c":"g","f":1566,"a":0.71},{"s":"g3b","c":"g","f":1566.9,"a":0.56},{"s":"g3b","c":"g","f":1568.3,"a":0.51},{"s":"g3b","c":"g","f":1569.5,"a":0.66},{"s":"g3b","c":"g","f":1570.4,"a":0.61},
{"s":"g3c","c":"g","f":1566.9,"a":0.56},{"s":"g3c","c":"g","f":1567.6,"a":0.48},{"s":"g3c","c":"g","f":1569,"a":0.36},{"s":"g3c","c":"g","f":1570.4,"a":0.25},{"s":"g3c","c":"g","f":1571.1,"a":0.2},{"s":"g3c","c":"g","f":1571.8,"a":0.25},{"s":"g3c","c":"g","f":1572.9,"a":0.9},{"s":"g3c","c":"g","f":1573.6,"a":0.78},{"s":"g3c","c":"g","f":1574.3,"a":2.05},{"s":"g3c","c":"g","f":1574.6,"a":2.05},{"s":"g3c","c":"g","f":1575,"a":0.76},
{"s":"g3d","c":"g","f":1577.1,"a":2.05},{"s":"g3d","c":"g","f":1577.4,"a":0.95},{"s":"g3d","c":"g","f":1578.8,"a":0.76},{"s":"g3d","c":"g","f":1580.5,"a":0.55},{"s":"g3d","c":"g","f":1581.6,"a":0.32},{"s":"g3d","c":"g","f":1582.6,"a":0.245},{"s":"g3d","c":"g","f":1583.4,"a":0.245},{"s":"g3d","c":"g","f":1583.5,"a":0.8},{"s":"g3d","c":"g","f":1583.7,"a":0.27},
{"s":"r3a","c":"r","f":1583.7,"a":0.27},{"s":"r3a","c":"r","f":1585.1,"a":0.38},{"s":"r3a","c":"r","f":1586.2,"a":0.6},{"s":"r3a","c":"r","f":1586.9,"a":0.8},{"s":"r3a","c":"r","f":1587.9,"a":0.73},{"s":"r3a","c":"r","f":1588.6,"a":1.0},{"s":"r3a","c":"r","f":1588.8,"a":2.05},{"s":"r3a","c":"r","f":1589.3,"a":2.05},
{"s":"r3b","c":"r","f":1592.8,"a":2.05},{"s":"r3b","c":"r","f":1593,"a":0.88},{"s":"r3b","c":"r","f":1594,"a":0.8},{"s":"r3b","c":"r","f":1594.9,"a":0.87},{"s":"r3b","c":"r","f":1596.6,"a":0.95},{"s":"r3b","c":"r","f":1598,"a":1.05},{"s":"r3b","c":"r","f":1598.4,"a":1.54},{"s":"r3b","c":"r","f":1599.1,"a":1.54},{"s":"r3b","c":"r","f":1599.8,"a":1.2},{"s":"r3b","c":"r","f":1600.5,"a":1.4},{"s":"r3b","c":"r","f":1601.2,"a":2.05},{"s":"r3b","c":"r","f":1601.9,"a":2.05},{"s":"r3b","c":"r","f":1602.6,"a":1.05},{"s":"r3b","c":"r","f":1603.3,"a":1.65},{"s":"r3b","c":"r","f":1604,"a":1.65},{"s":"r3b","c":"r","f":1604.7,"a":1.03},{"s":"r3b","c":"r","f":1604.9,"a":1.21},{"s":"r3b","c":"r","f":1605.6,"a":0.96},{"s":"r3b","c":"r","f":1606.8,"a":0.75},{"s":"r3b","c":"r","f":1609.1,"a":0.66},{"s":"r3b","c":"r","f":1611,"a":0.63},{"s":"r3b","c":"r","f":1612.6,"a":0.46},{"s":"r3b","c":"r","f":1614.3,"a":0.31},{"s":"r3b","c":"r","f":1615.7,"a":0.27},
{"s":"c3","c":"c","f":1616.1,"a":0.27},{"s":"c3","c":"c","f":1617.3,"a":0.38},{"s":"c3","c":"c","f":1618.5,"a":0.71},{"s":"c3","c":"c","f":1619.4,"a":0.78},{"s":"c3","c":"c","f":1619.6,"a":1.15},{"s":"c3","c":"c","f":1620.8,"a":1.16},{"s":"c3","c":"c","f":1621.5,"a":1.38},{"s":"c3","c":"c","f":1621.8,"a":1.21},{"s":"c3","c":"c","f":1622.6,"a":1.7},{"s":"c3","c":"c","f":1623,"a":1.25},{"s":"c3","c":"c","f":1623.8,"a":1.41},{"s":"c3","c":"c","f":1624.3,"a":1.3},{"s":"c3","c":"c","f":1625.5,"a":1.43},{"s":"c3","c":"c","f":1625.6,"a":1.8},{"s":"c3","c":"c","f":1626,"a":1.45},{"s":"c3","c":"c","f":1626.6,"a":2.05},{"s":"c3","c":"c","f":1626.8,"a":2.05},{"s":"c3","c":"c","f":1627,"a":1.06},{"s":"c3","c":"c","f":1628.2,"a":1.0},{"s":"c3","c":"c","f":1630,"a":0.96},{"s":"c3","c":"c","f":1631.5,"a":0.95},{"s":"c3","c":"c","f":1633.6,"a":1.0},{"s":"c3","c":"c","f":1635.2,"a":0.99},{"s":"c3","c":"c","f":1637.1,"a":1.05},{"s":"c3","c":"c","f":1637.8,"a":1.1},{"s":"c3","c":"c","f":1638.3,"a":1.05},{"s":"c3","c":"c","f":1640.6,"a":1.055},{"s":"c3","c":"c","f":1642.4,"a":1.06},{"s":"c3","c":"c","f":1643.4,"a":1.01},{"s":"c3","c":"c","f":1644.5,"a":0.8},{"s":"c3","c":"c","f":1645.8,"a":0.545},{"s":"c3","c":"c","f":1647.1,"a":0.38},{"s":"c3","c":"c","f":1648.3,"a":0.265},
{"s":"m3","c":"m","f":1648.3,"a":0.115},{"s":"m3","c":"m","f":1649.7,"a":0.145},{"s":"m3","c":"m","f":1650.8,"a":0.295},{"s":"m3","c":"m","f":1652,"a":0.46},{"s":"m3","c":"m","f":1653.1,"a":0.51},{"s":"m3","c":"m","f":1655,"a":0.52},{"s":"m3","c":"m","f":1657.8,"a":0.51},{"s":"m3","c":"m","f":1661.3,"a":0.475},{"s":"m3","c":"m","f":1663.6,"a":0.495},{"s":"m3","c":"m","f":1666,"a":0.505},{"s":"m3","c":"m","f":1669,"a":0.505},{"s":"m3","c":"m","f":1669.5,"a":0.7},{"s":"m3","c":"m","f":1669.9,"a":2.05},{"s":"m3","c":"m","f":1670.6,"a":2.05},{"s":"m3","c":"m","f":1674.4,"a":2.05},{"s":"m3","c":"m","f":1674.8,"a":2.05},{"s":"m3","c":"m","f":1675.3,"a":0.38},{"s":"m3","c":"m","f":1676.5,"a":0.245},{"s":"m3","c":"m","f":1678.3,"a":0.16},{"s":"m3","c":"m","f":1680,"a":0.12},
{"s":"y3","c":"y","f":1680.4,"a":0.295},{"s":"y3","c":"y","f":1681.1,"a":0.295},{"s":"y3","c":"y","f":1682.3,"a":0.545},{"s":"y3","c":"y","f":1683.4,"a":0.88},{"s":"y3","c":"y","f":1685.1,"a":1.21},{"s":"y3","c":"y","f":1686.5,"a":1.305},{"s":"y3","c":"y","f":1688.6,"a":1.31},{"s":"y3","c":"y","f":1690,"a":1.26},{"s":"y3","c":"y","f":1691.6,"a":1.15},{"s":"y3","c":"y","f":1692.8,"a":1.145},{"s":"y3","c":"y","f":1693.1,"a":1.32},{"s":"y3","c":"y","f":1693.5,"a":1.32},{"s":"y3","c":"y","f":1693.7,"a":1.145},{"s":"y3","c":"y","f":1696.3,"a":1.155},{"s":"y3","c":"y","f":1697.2,"a":1.2},{"s":"y3","c":"y","f":1697.4,"a":1.23},{"s":"y3","c":"y","f":1697.7,"a":1.2},{"s":"y3","c":"y","f":1698.6,"a":1.155},{"s":"y3","c":"y","f":1702.1,"a":1.105},{"s":"y3","c":"y","f":1703,"a":1.155},{"s":"y3","c":"y","f":1703.7,"a":1.08},{"s":"y3","c":"y","f":1705.6,"a":1.045},{"s":"y3","c":"y","f":1706.8,"a":0.96},{"s":"y3","c":"y","f":1707.9,"a":0.71},{"s":"y3","c":"y","f":1709.6,"a":0.46},{"s":"y3","c":"y","f":1711,"a":0.295},{"s":"y3","c":"y","f":1711.9,"a":0.29},
{"s":"k3","c":"k","f":1712.1,"a":0.295},{"s":"k3","c":"k","f":1713.1,"a":0.38},{"s":"k3","c":"k","f":1713.8,"a":0.63},{"s":"k3","c":"k","f":1714.9,"a":0.96},{"s":"k3","c":"k","f":1716.1,"a":1.16},{"s":"k3","c":"k","f":1717.7,"a":1.24},{"s":"k3","c":"k","f":1719.3,"a":1.26},{"s":"k3","c":"k","f":1720.3,"a":1.17},{"s":"k3","c":"k","f":1722.6,"a":1.17},{"s":"k3","c":"k","f":1724.2,"a":1.14},{"s":"k3","c":"k","f":1725.6,"a":1.09},{"s":"k3","c":"k","f":1727.3,"a":1.165},{"s":"k3","c":"k","f":1728.2,"a":1.21},{"s":"k3","c":"k","f":1729.1,"a":2.05},{"s":"k3","c":"k","f":1730.1,"a":2.05},{"s":"k3","c":"k","f":1730.5,"a":1.105},{"s":"k3","c":"k","f":1732.4,"a":1.09},{"s":"k3","c":"k","f":1734,"a":1.09},{"s":"k3","c":"k","f":1734.5,"a":1.13},{"s":"k3","c":"k","f":1735.2,"a":1.055},{"s":"k3","c":"k","f":1737.5,"a":1.03},{"s":"k3","c":"k","f":1738.7,"a":0.98},{"s":"k3","c":"k","f":1740.1,"a":0.71},{"s":"k3","c":"k","f":1741.7,"a":0.46},{"s":"k3","c":"k","f":1742.9,"a":0.33},{"s":"k3","c":"k","f":1744.1,"a":0.305},
{"s":"b4","c":"b","f":1744.3,"a":0.31},{"s":"b4","c":"b","f":1745.2,"a":0.38},{"s":"b4","c":"b","f":1746.4,"a":0.71},{"s":"b4","c":"b","f":1747.8,"a":1.05},{"s":"b4","c":"b","f":1749.2,"a":1.18},{"s":"b4","c":"b","f":1750.2,"a":1.18},{"s":"b4","c":"b","f":1750.4,"a":1.28},{"s":"b4","c":"b","f":1750.6,"a":1.18},{"s":"b4","c":"b","f":1751.7,"a":1.17},{"s":"b4","c":"b","f":1752.9,"a":1.19},{"s":"b4","c":"b","f":1755.2,"a":1.165},{"s":"b4","c":"b","f":1758,"a":1.155},{"s":"b4","c":"b","f":1759.9,"a":1.13},{"s":"b4","c":"b","f":1761.5,"a":1.133},{"s":"b4","c":"b","f":1763.9,"a":1.15},{"s":"b4","c":"b","f":1765.5,"a":1.125},{"s":"b4","c":"b","f":1767.8,"a":1.147},{"s":"b4","c":"b","f":1769.7,"a":1.115},{"s":"b4","c":"b","f":1771.3,"a":1.01},{"s":"b4","c":"b","f":1772.5,"a":0.71},{"s":"b4","c":"b","f":1773.9,"a":0.38},{"s":"b4","c":"b","f":1775.1,"a":0.315},
{"s":"g4","c":"g","f":1775.5,"a":0.33},{"s":"g4","c":"g","f":1776.7,"a":0.41},{"s":"g4","c":"g","f":1777.9,"a":0.71},{"s":"g4","c":"g","f":1779.5,"a":1.05},{"s":"g4","c":"g","f":1780.9,"a":1.165},{"s":"g4","c":"g","f":1782.1,"a":1.23},{"s":"g4","c":"g","f":1783.2,"a":1.255},{"s":"g4","c":"g","f":1784.8,"a":1.19},{"s":"g4","c":"g","f":1787.2,"a":1.17},{"s":"g4","c":"g","f":1790.7,"a":1.135},{"s":"g4","c":"g","f":1792.1,"a":1.14},{"s":"g4","c":"g","f":1794.2,"a":1.177},{"s":"g4","c":"g","f":1796.5,"a":1.165},{"s":"g4","c":"g","f":1798.8,"a":1.1},{"s":"g4","c":"g","f":1801.2,"a":1.03},{"s":"g4","c":"g","f":1802.8,"a":0.96},{"s":"g4","c":"g","f":1804.7,"a":0.71},{"s":"g4","c":"g","f":1806.5,"a":0.46},{"s":"g4","c":"g","f":1808.2,"a":0.33},
{"s":"r4","c":"r","f":1826.8,"a":0.48},{"s":"r4","c":"r","f":1827.5,"a":0.48},{"s":"r4","c":"r","f":1827.8,"a":2.05},{"s":"r4","c":"r","f":1828.2,"a":2.05},{"s":"r4","c":"r","f":1832.6,"a":2.05},{"s":"r4","c":"r","f":1832.9,"a":2.05},{"s":"r4","c":"r","f":1833.3,"a":0.3},
{"s":"c4","c":"c","f":1840.6,"a":0.415},{"s":"c4","c":"c","f":1841.3,"a":0.71},{"s":"c4","c":"c","f":1842.4,"a":1.21},{"s":"c4","c":"c","f":1843.8,"a":1.63},{"s":"c4","c":"c","f":1845,"a":1.865},{"s":"c4","c":"c","f":1846.2,"a":1.89},{"s":"c4","c":"c","f":1847.6,"a":1.75},{"s":"c4","c":"c","f":1849.4,"a":1.55},{"s":"c4","c":"c","f":1851.3,"a":1.38},{"s":"c4","c":"c","f":1853.6,"a":1.165},{"s":"c4","c":"c","f":1856,"a":0.98},{"s":"c4","c":"c","f":1858.3,"a":0.88},{"s":"c4","c":"c","f":1860.6,"a":0.745},{"s":"c4","c":"c","f":1862.9,"a":0.58},{"s":"c4","c":"c","f":1866.4,"a":0.43},{"s":"c4","c":"c","f":1868.8,"a":0.337},{"s":"c4","c":"c","f":1870,"a":0.33},{"s":"c4","c":"c","f":1871.9,"a":0.38}
],
"noise":[
{"s":"b1a","c":"b","f":1060.1,"hi":0.91,"lo":0.51},{"s":"b1a","c":"b","f":1061,"hi":0.91,"lo":0.51},
{"s":"b1b","c":"b","f":1067.8,"hi":0.62,"lo":0.42},{"s":"b1b","c":"b","f":1069,"hi":0.52,"lo":0.33},{"s":"b1b","c":"b","f":1070.2,"hi":0.42,"lo":0.24},{"s":"b1b","c":"b","f":1071.3,"hi":0.34,"lo":0.18},{"s":"b1b","c":"b","f":1072.5,"hi":0.29,"lo":0.13},{"s":"b1b","c":"b","f":1073.7,"hi":0.24,"lo":0.09},{"s":"b1b","c":"b","f":1074.8,"hi":0.2,"lo":0.055},{"s":"b1b","c":"b","f":1076.5,"hi":0.2,"lo":0.025},{"s":"b1b","c":"b","f":1077.9,"hi":0.2,"lo":0.055},{"s":"b1b","c":"b","f":1079.3,"hi":0.24,"lo":0.09},{"s":"b1b","c":"b","f":1080.7,"hi":0.32,"lo":0.15},{"s":"b1b","c":"b","f":1082.1,"hi":0.4,"lo":0.22},{"s":"b1b","c":"b","f":1083.4,"hi":0.52,"lo":0.33},{"s":"b1b","c":"b","f":1084.8,"hi":0.75,"lo":0.45},
{"s":"b1c","c":"b","f":1090.6,"hi":0.78,"lo":0.65},{"s":"b1c","c":"b","f":1092,"hi":0.78,"lo":0.66},
{"s":"r2n","c":"r","f":1361.3,"hi":1.38,"lo":1.18},{"s":"r2n","c":"r","f":1362.5,"hi":1.41,"lo":1.05},{"s":"r2n","c":"r","f":1364.1,"hi":1.47,"lo":1.18},{"s":"r2n","c":"r","f":1365.3,"hi":1.35,"lo":1.08},{"s":"r2n","c":"r","f":1366.4,"hi":1.21,"lo":0.88},{"s":"r2n","c":"r","f":1368.3,"hi":0.98,"lo":0.7},{"s":"r2n","c":"r","f":1369.9,"hi":0.78,"lo":0.54},{"s":"r2n","c":"r","f":1371.8,"hi":0.64,"lo":0.33},{"s":"r2n","c":"r","f":1373.4,"hi":0.52,"lo":0.2},{"s":"r2n","c":"r","f":1375.6,"hi":0.46,"lo":0.16},{"s":"r2n","c":"r","f":1375.7,"hi":0.46,"lo":0},{"s":"r2n","c":"r","f":1377.2,"hi":0.46,"lo":0},{"s":"r2n","c":"r","f":1377.3,"hi":0.46,"lo":0.16},{"s":"r2n","c":"r","f":1379.3,"hi":0.54,"lo":0.2},{"s":"r2n","c":"r","f":1381.6,"hi":0.6,"lo":0.34},{"s":"r2n","c":"r","f":1383.5,"hi":0.76,"lo":0.5},{"s":"r2n","c":"r","f":1385.1,"hi":1.0,"lo":0.7},{"s":"r2n","c":"r","f":1386.7,"hi":1.28,"lo":0.95},{"s":"r2n","c":"r","f":1388.1,"hi":1.46,"lo":1.15},{"s":"r2n","c":"r","f":1389.7,"hi":1.46,"lo":1.2},{"s":"r2n","c":"r","f":1390.9,"hi":1.26,"lo":1.15},
{"s":"b3n","c":"b","f":1514,"hi":1.24,"lo":1.17},{"s":"b3n","c":"b","f":1515.9,"hi":1.25,"lo":1.2},{"s":"b3n","c":"b","f":1517.5,"hi":1.25,"lo":1.2},{"s":"b3n","c":"b","f":1519.8,"hi":1.15,"lo":1.08},{"s":"b3n","c":"b","f":1523.3,"hi":1.08,"lo":1.0},{"s":"b3n","c":"b","f":1526.2,"hi":1.0,"lo":0.94},
{"s":"b3m","c":"b","f":1526.4,"hi":1.0,"lo":0.95},{"s":"b3m","c":"b","f":1527.1,"hi":2.05,"lo":0.95},{"s":"b3m","c":"b","f":1527.8,"hi":2.05,"lo":0.95},{"s":"b3m","c":"b","f":1528.5,"hi":1.2,"lo":0.95},{"s":"b3m","c":"b","f":1530.2,"hi":1.2,"lo":0.95},{"s":"b3m","c":"b","f":1530.6,"hi":1.44,"lo":0.93},{"s":"b3m","c":"b","f":1531.3,"hi":1.44,"lo":0.93},{"s":"b3m","c":"b","f":1531.6,"hi":1.2,"lo":0.92},{"s":"b3m","c":"b","f":1532.3,"hi":1.34,"lo":0.92},{"s":"b3m","c":"b","f":1533.4,"hi":1.34,"lo":0.9},{"s":"b3m","c":"b","f":1534.1,"hi":1.15,"lo":0.88},{"s":"b3m","c":"b","f":1535.5,"hi":1.15,"lo":0.85},{"s":"b3m","c":"b","f":1535.8,"hi":1.96,"lo":0.85},{"s":"b3m","c":"b","f":1536.5,"hi":1.96,"lo":0.83},{"s":"b3m","c":"b","f":1536.9,"hi":1.54,"lo":0.6},{"s":"b3m","c":"b","f":1537.9,"hi":2.05,"lo":0.5},{"s":"b3m","c":"b","f":1539,"hi":2.05,"lo":0.45},{"s":"b3m","c":"b","f":1539.3,"hi":1.3,"lo":0.4},{"s":"b3m","c":"b","f":1540.3,"hi":1.4,"lo":0.31},{"s":"b3m","c":"b","f":1540.7,"hi":2.05,"lo":0.31},{"s":"b3m","c":"b","f":1541.4,"hi":2.05,"lo":0.65},{"s":"b3m","c":"b","f":1541.7,"hi":1.3,"lo":0.7},{"s":"b3m","c":"b","f":1542.4,"hi":1.3,"lo":0.76},{"s":"b3m","c":"b","f":1542.8,"hi":2.05,"lo":0.78},{"s":"b3m","c":"b","f":1543.8,"hi":2.05,"lo":0.8},{"s":"b3m","c":"b","f":1544.2,"hi":1.5,"lo":0.82},{"s":"b3m","c":"b","f":1545.2,"hi":1.5,"lo":0.85},{"s":"b3m","c":"b","f":1545.6,"hi":1.86,"lo":0.87},{"s":"b3m","c":"b","f":1546.6,"hi":1.86,"lo":0.9},{"s":"b3m","c":"b","f":1547,"hi":2.05,"lo":0.9},{"s":"b3m","c":"b","f":1548,"hi":2.05,"lo":0.9},{"s":"b3m","c":"b","f":1548.7,"hi":1.3,"lo":0.6},{"s":"b3m","c":"b","f":1549.4,"hi":1.2,"lo":0.5},{"s":"b3m","c":"b","f":1550.1,"hi":1.1,"lo":0.4},{"s":"b3m","c":"b","f":1551.2,"hi":1.45,"lo":0.33},{"s":"b3m","c":"b","f":1551.9,"hi":1.45,"lo":0.8},{"s":"b3m","c":"b","f":1552.2,"hi":1.1,"lo":1.0},
{"s":"g3n","c":"g","f":1551.5,"hi":2.05,"lo":1.0},{"s":"g3n","c":"g","f":1551.9,"hi":2.05,"lo":0.2},{"s":"g3n","c":"g","f":1552.6,"hi":2.05,"lo":0.2},{"s":"g3n","c":"g","f":1553,"hi":2.05,"lo":0.26},{"s":"g3n","c":"g","f":1553.6,"hi":2.05,"lo":0.27},{"s":"g3n","c":"g","f":1554,"hi":1.2,"lo":0.27},{"s":"g3n","c":"g","f":1555,"hi":1.3,"lo":0.41},{"s":"g3n","c":"g","f":1555.7,"hi":1.85,"lo":0.55},{"s":"g3n","c":"g","f":1557.1,"hi":1.85,"lo":0.65},{"s":"g3n","c":"g","f":1557.8,"hi":2.05,"lo":0.68},{"s":"g3n","c":"g","f":1559.2,"hi":2.05,"lo":0.8},{"s":"g3n","c":"g","f":1559.6,"hi":1.4,"lo":0.8},{"s":"g3n","c":"g","f":1559.9,"hi":2.05,"lo":0.83},{"s":"g3n","c":"g","f":1561.7,"hi":2.05,"lo":0.83},
{"s":"c3n","c":"c","f":1620,"hi":1.16,"lo":0.85},{"s":"c3n","c":"c","f":1620.8,"hi":1.37,"lo":1.15},{"s":"c3n","c":"c","f":1622.2,"hi":1.37,"lo":1.2},{"s":"c3n","c":"c","f":1623.3,"hi":1.43,"lo":1.22},{"s":"c3n","c":"c","f":1624.6,"hi":1.43,"lo":1.3},{"s":"c3n","c":"c","f":1625,"hi":1.43,"lo":1.3},
{"s":"m3n","c":"m","f":1653.1,"hi":0.525,"lo":0.495},{"s":"m3n","c":"m","f":1655,"hi":0.54,"lo":0.505},{"s":"m3n","c":"m","f":1657.8,"hi":0.525,"lo":0.495},{"s":"m3n","c":"m","f":1661.3,"hi":0.49,"lo":0.46},{"s":"m3n","c":"m","f":1663.6,"hi":0.51,"lo":0.48},{"s":"m3n","c":"m","f":1666,"hi":0.52,"lo":0.49},{"s":"m3n","c":"m","f":1669,"hi":0.52,"lo":0.49},
{"s":"r4a","c":"r","f":1808.2,"hi":0.13,"lo":0.06},{"s":"r4a","c":"r","f":1809.3,"hi":0.21,"lo":0.1},{"s":"r4a","c":"r","f":1810.5,"hi":0.38,"lo":0.21},{"s":"r4a","c":"r","f":1811.7,"hi":0.58,"lo":0.46},{"s":"r4a","c":"r","f":1812.8,"hi":0.645,"lo":0.54},{"s":"r4a","c":"r","f":1814,"hi":0.705,"lo":0.63},{"s":"r4a","c":"r","f":1816.3,"hi":0.71,"lo":0.63},{"s":"r4a","c":"r","f":1817.5,"hi":0.695,"lo":0.62},{"s":"r4a","c":"r","f":1819.8,"hi":0.62,"lo":0.56},{"s":"r4a","c":"r","f":1822.1,"hi":0.58,"lo":0.5},{"s":"r4a","c":"r","f":1824.5,"hi":0.53,"lo":0.46},{"s":"r4a","c":"r","f":1826.8,"hi":0.495,"lo":0.45},
{"s":"r4b","c":"r","f":1833.3,"hi":0.31,"lo":0.23},{"s":"r4b","c":"r","f":1835,"hi":0.28,"lo":0.195},{"s":"r4b","c":"r","f":1837.3,"hi":0.205,"lo":0.11},{"s":"r4b","c":"r","f":1839.6,"hi":0.14,"lo":0.055},{"s":"r4b","c":"r","f":1840.3,"hi":0.14,"lo":0.055}
],
"labels":[{"f":1862.7,"a":1.9,"t":"LA - RR"}],
"frame":[{"f":1100,"a":0}]
},
"layer":[
{"encoding":{"x":{"field":"f","type":"quantitative","scale":{"domain":[1060,1872],"nice":false,"zero":false},"axis":{"values":[1100,1200,1300,1400,1500,1600,1700,1800],"format":"d","grid":false,"title":"Frequency [MHz]","titleFont":"DejaVu Sans","titleFontSize":16.67,"titleFontWeight":"normal","titleColor":"black","labelFont":"DejaVu Sans","labelFontSize":16.67,"labelColor":"black","labelPadding":9,"titlePadding":3,"tickColor":"black","tickSize":-5,"domain":false}},"y":{"type":"quantitative","scale":{"domain":[0,2],"nice":false,"zero":false},"axis":{"values":[0,0.5,1,1.5,2],"format":".1f","grid":false,"title":"Amplitude [arbitrary units]","titleFont":"DejaVu Sans","titleFontSize":16.67,"titleFontWeight":"normal","titleColor":"black","labelFont":"DejaVu Sans","labelFontSize":16.67,"labelColor":"black","labelPadding":6,"titlePadding":10,"tickColor":"black","tickSize":-5,"domain":false}}},
"layer":[
{"data":{"name":"gray"},"mark":{"type":"area","color":"#bfbfbf","clip":true,"line":false},"encoding":{"y":{"field":"hi"},"y2":{"field":"lo"},"detail":{"field":"g"}}},
{"data":{"name":"spikes"},"mark":{"type":"rule","color":"#bfbfbf","strokeWidth":2.4,"clip":true},"encoding":{"y":{"field":"hi"},"y2":{"field":"lo"}}},
{"data":{"name":"lines"},"mark":{"type":"line","clip":true,"strokeWidth":1.7},"encoding":{"y":{"field":"a"},"detail":{"field":"s"},"color":{"field":"c","type":"nominal","legend":null,"scale":{"domain":["b","g","r","c","m","y","k"],"range":["#0000ff","#008000","#ff0000","#00bfbf","#bf00bf","#bfbf00","#000000"]}}}},
{"data":{"name":"noise"},"mark":{"type":"area","clip":true,"line":false},"encoding":{"y":{"field":"hi"},"y2":{"field":"lo"},"detail":{"field":"s"},"color":{"field":"c","type":"nominal","legend":null,"scale":{"domain":["b","g","r","c","m","y","k"],"range":["#0000ff","#008000","#ff0000","#00bfbf","#bf00bf","#bfbf00","#000000"]}}}},
{"data":{"name":"labels"},"mark":{"type":"text","align":"right","baseline":"middle","font":"DejaVu Sans","fontSize":16.67,"color":"black"},"encoding":{"y":{"field":"a"},"text":{"field":"t"}}}
]},
{"data":{"name":"frame"},"mark":{"type":"point","opacity":0},"encoding":{"x":{"field":"f","type":"quantitative","scale":{"domain":[1060,1872],"nice":false,"zero":false},"axis":{"orient":"top","values":[1100,1200,1300,1400,1500,1600,1700,1800],"labels":false,"title":null,"grid":false,"tickColor":"black","tickSize":-5,"domain":false}},"y":{"field":"a","type":"quantitative","scale":{"domain":[0,2],"nice":false,"zero":false},"axis":{"orient":"right","values":[0,0.5,1,1.5,2],"labels":false,"title":null,"grid":false,"tickColor":"black","tickSize":-5,"domain":false}}}}
],
"resolve":{"scale":{"x":"independent","y":"independent"},"axis":{"x":"independent","y":"independent"}}
}
